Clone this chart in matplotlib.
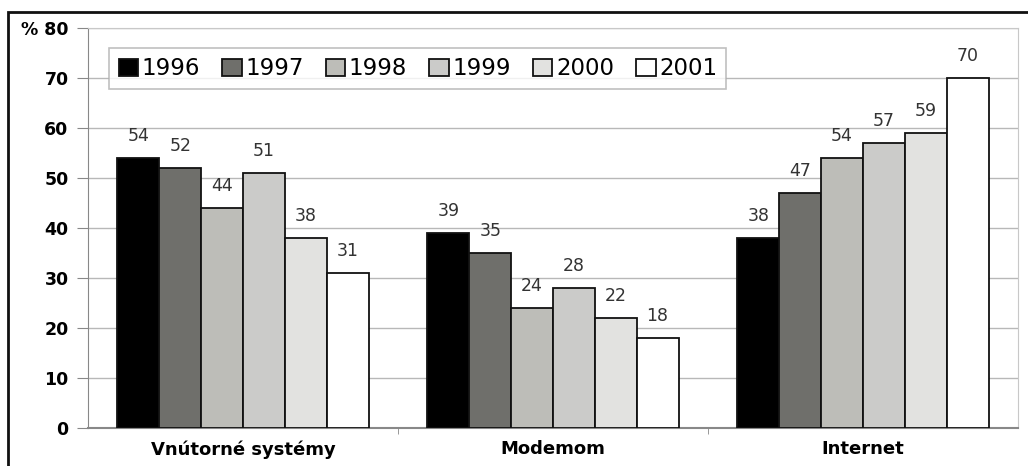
import numpy as np
import matplotlib.pyplot as plt
from matplotlib.patches import Rectangle

plt.rcParams['font.family'] = ['DejaVu Sans']

# Data
categories = ['Vnútorné systémy', 'Modemom', 'Internet']
years = ['1996', '1997', '1998', '1999', '2000', '2001']
values = {
    '1996': [54, 39, 38],
    '1997': [52, 35, 47],
    '1998': [44, 24, 54],
    '1999': [51, 28, 57],
    '2000': [38, 22, 59],
    '2001': [31, 18, 70],
}
colors = ['#000000', '#6f6f6b', '#bdbdb8', '#cbcbc9', '#e2e2e0', '#ffffff']
yticks = [0, 10, 20, 30, 40, 50, 60, 70, 80]

fig = plt.figure(figsize=(10.28, 4.66), dpi=100)
ax = fig.add_axes([88 / 1028, 38 / 466, 930 / 1028, 400 / 466])

x = np.arange(len(categories))
width = 0.135
for i, yr in enumerate(years):
    pos = x + (i - 2.5) * width
    bars = ax.bar(pos, values[yr], width, color=colors[i], edgecolor='#111111',
                  linewidth=1.3, label=yr, zorder=3)
    for b, v in zip(bars, values[yr]):
        ax.text(b.get_x() + b.get_width() / 2, v + 2.6, str(v),
                ha='center', va='bottom', fontsize=12.5, color='#333333')

ax.set_xlim(-0.5, 2.5)
ax.set_ylim(0, 80)
ax.set_yticks(yticks)
ax.set_yticklabels([str(t) if t != 80 else '% 80' for t in yticks],
                   fontsize=12.5, fontweight='bold')
ax.yaxis.grid(True, color='#b8b8b8', linewidth=1, zorder=0)
ax.tick_params(axis='y', length=8, color='#888888', pad=6)
ax.set_xticks(x)
ax.set_xticklabels(categories, fontsize=13, fontweight='bold')
ax.tick_params(axis='x', length=0, pad=9)
ax.set_xticks([0.5, 1.5], minor=True)
ax.tick_params(axis='x', which='minor', length=4, color='#888888', direction='out')

for side in ['top', 'right']:
    ax.spines[side].set_color('#c8c8c8')
ax.spines['left'].set_color('#888888')
ax.spines['bottom'].set_color('#888888')
ax.spines['bottom'].set_linewidth(1.5)

leg = ax.legend(loc='upper left', bbox_to_anchor=(0.023, 0.95), ncol=6,
                fontsize=16.5, frameon=True, fancybox=False, handlelength=0.85,
                handleheight=0.75, handletextpad=0.15, columnspacing=0.97,
                borderpad=0.4, borderaxespad=0)
leg.get_frame().set_edgecolor('#b0b0b0')
leg.get_frame().set_linewidth(1.2)

# Outer black frame
fig.patches.append(Rectangle((8 / 1028, -0.01), 1.1, (466 - 12) / 466 + 0.01,
                             transform=fig.transFigure, fill=False,
                             edgecolor='#111111', linewidth=2))

fig.savefig('out.png', dpi=100)
